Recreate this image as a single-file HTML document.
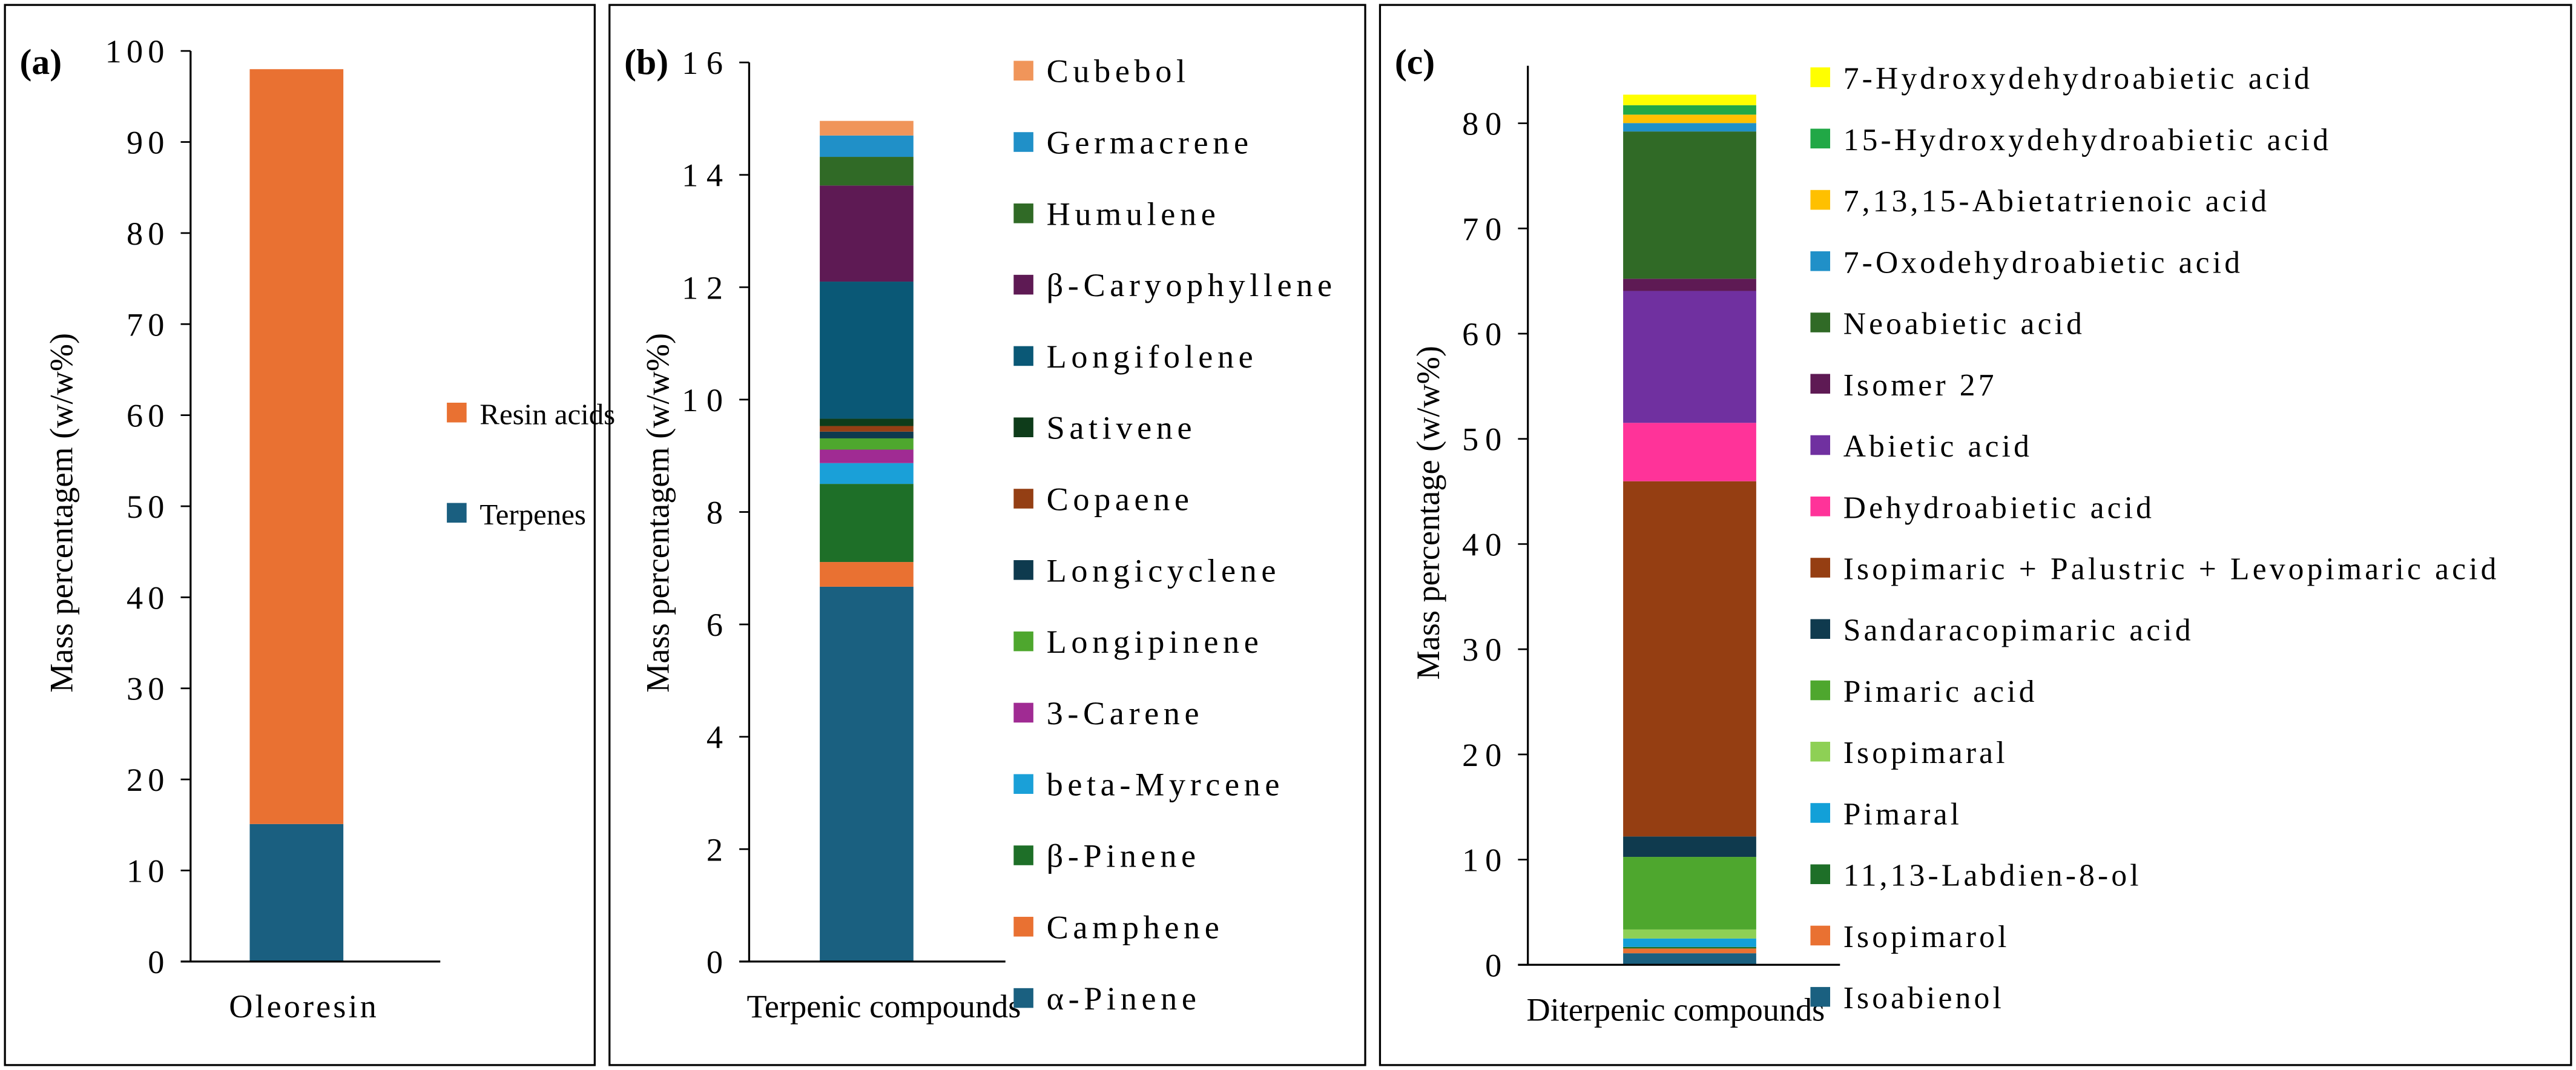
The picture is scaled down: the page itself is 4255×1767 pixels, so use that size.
<!DOCTYPE html>
<html><head><meta charset="utf-8"><style>
html,body{margin:0;padding:0;background:#fff;}
svg{display:block;}
svg text{font-family:"Liberation Serif","Times New Roman",serif;}
</style></head><body>
<svg id="fig" width="4255" height="1767" viewBox="0 0 1568 651" preserveAspectRatio="none" xmlns="http://www.w3.org/2000/svg" font-family="Liberation Serif, serif"></svg>
<script>
// Panel (a)
const aCats = ["Terpenes","Resin acids"];
const aVals = [15.1, 82.9];
const aColors = ["#1a5f80","#e97132"];
const aTicks = [0,10,20,30,40,50,60,70,80,90,100];
// Panel (b)
const bCats = ["α-Pinene","Camphene","β-Pinene","beta-Myrcene","3-Carene","Longipinene","Longicyclene","Copaene","Sativene","Longifolene","β-Caryophyllene","Humulene","Germacrene","Cubebol"];
const bVals = [6.67,0.44,1.39,0.37,0.24,0.20,0.12,0.10,0.13,2.44,1.71,0.51,0.38,0.26];
const bColors = ["#1a6080","#e97132","#1e6f28","#1aa0d8","#a02b93","#4ea72e","#0e3a4e","#943f14","#0e3c1a","#0a5876","#5e1a54","#306a26","#2090c8","#f0955a"];
const bTicks = [0,2,4,6,8,10,12,14,16];
// Panel (c)
const cCats = ["Isoabienol","Isopimarol","11,13-Labdien-8-ol","Pimaral","Isopimaral","Pimaric acid","Sandaracopimaric acid","Isopimaric + Palustric + Levopimaric acid","Dehydroabietic acid","Abietic acid","Isomer 27","Neoabietic acid","7-Oxodehydroabietic acid","7,13,15-Abietatrienoic acid","15-Hydroxydehydroabietic acid","7-Hydroxydehydroabietic acid"];
const cVals = [1.1,0.45,0.15,0.8,0.86,6.9,1.94,33.77,5.55,12.54,1.16,14.0,0.8,0.8,0.9,1.0];
const cColors = ["#1a6080","#e97132","#1e6f28","#12a0d8","#8ed055","#4ea72e","#0f3a4e","#953e12","#ff3399","#7030a0","#5e1a54","#306a26","#2090c8","#ffc000","#21a846","#ffff00"];
const cTicks = [0,10,20,30,40,50,60,70,80];

const NS="http://www.w3.org/2000/svg";
const FONT='Liberation Serif, Times New Roman, serif';
const svg=document.getElementById('fig');
function mk(tag,attrs,parent,text){const e=document.createElementNS(NS,tag);for(const k in attrs)e.setAttribute(k,attrs[k]);if(tag==='text')e.setAttribute('font-family',FONT);if(text!==undefined)e.textContent=text;(parent||svg).appendChild(e);return e;}

function panel(o){
  const g=mk('g',{});
  
  
  const fr=mk('rect',{x:o.box[0],y:3,width:o.box[1]-o.box[0],height:645,fill:'none',stroke:'#000','stroke-width':1.2},g);
  
  
  const y=v=>o.y0-(v/o.max)*(o.y0-o.yTop);
  o.ticks.forEach(t=>{
    const tl=mk('line',{x1:o.ax-6,x2:o.ax,y1:y(t),y2:y(t),stroke:'#000','stroke-width':1},g);
    
    
    const tt=mk('text',{x:o.ax-16+o.tls,y:y(t)+7,'text-anchor':'end','font-size':20,'letter-spacing':o.tls},g,String(t));
    
    
  });
  let cum=0;
  o.vals.forEach((v,i)=>{
    const r=mk('rect',{x:o.bx,width:o.bw,y:y(cum+v),height:y(cum)-y(cum+v),fill:o.colors[i]},g);
    
    
    cum+=v;
  });
  const ya=mk('line',{x1:o.ax,x2:o.ax,y1:o.yAxisTop,y2:o.y0,stroke:'#000','stroke-width':1.2},g);
  
  
  const xa=mk('line',{x1:o.ax-6,x2:o.xEnd,y1:o.y0,y2:o.y0,stroke:'#000','stroke-width':1.2},g);
  
  
  const xl=mk('text',{x:o.xlx,y:o.y0+34,'text-anchor':'middle','font-size':20,'letter-spacing':o.xls},g,o.xlabel);
  
  
  const yt=mk('text',{x:0,y:0,transform:`translate(${o.ytx},${o.yty}) rotate(-90)`,'text-anchor':'middle','font-size':20},g,o.ytitle);
  
  
  const pl=mk('text',{x:o.box[0]+9,y:o.labelY,'font-size':22,'font-weight':'bold'},g,o.label);
  
  
  const n=o.cats.length;
  for(let k=0;k<n;k++){
    const i=n-1-k;
    const ly=o.legY0+k*o.legStep;
    const lg=mk('g',{},g);
    
    
    mk('rect',{x:o.legX,y:ly-6,width:12,height:12,fill:o.colors[i]},lg);
    mk('text',{x:o.legX+20,y:ly+7,'font-size':o.lfs,'letter-spacing':o.lls},lg,o.cats[i]);
  }
}

panel({name:'panel-a-oleoresin',box:[3,362],ax:116,y0:585,yTop:31,yAxisTop:31,max:100,ticks:aTicks,bx:152,bw:57,xEnd:268,xlx:185,tls:3,xls:1.5,
  vals:aVals,colors:aColors,cats:aCats,xlabel:'Oleoresin',ytitle:'Mass percentagem (w/w%)',ytx:44,yty:312,label:'(a)',labelY:45,
  legX:272,legY0:251,legStep:61,lfs:18,lls:0});
panel({name:'panel-b-terpenic',box:[371,831],ax:456,y0:585,yTop:38,yAxisTop:38,max:16,ticks:bTicks,bx:499,bw:57,xEnd:612,xlx:538,tls:5,xls:0,
  vals:bVals,colors:bColors,cats:bCats,xlabel:'Terpenic compounds',ytitle:'Mass percentagem (w/w%)',ytx:407,yty:312,label:'(b)',labelY:45,
  legX:617,legY0:43,legStep:43.4,lfs:20,lls:2.8});
panel({name:'panel-c-diterpenic',box:[840,1565],ax:930,y0:587,yTop:75,yAxisTop:40,max:80,ticks:cTicks,bx:988,bw:81,xEnd:1120,xlx:1020,tls:4,xls:0,
  vals:cVals,colors:cColors,cats:cCats,xlabel:'Diterpenic compounds',ytitle:'Mass percentage (w/w%)',ytx:876,yty:312,label:'(c)',labelY:45,
  legX:1102,legY0:47,legStep:37.3,lfs:19,lls:1.9});
</script>
</body></html>
